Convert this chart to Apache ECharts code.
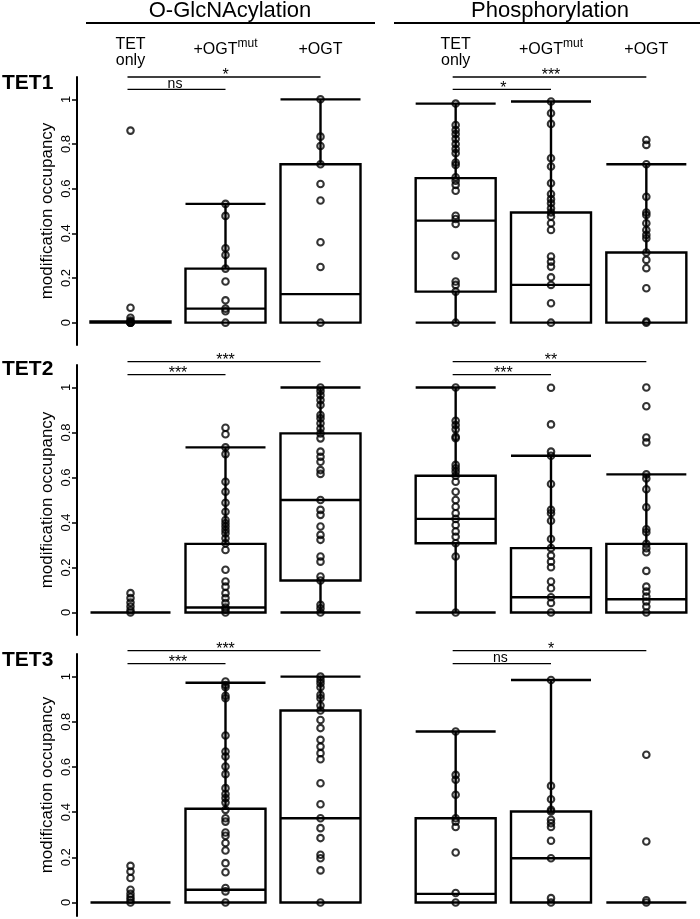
<!DOCTYPE html>
<html><head><meta charset="utf-8">
<script src="https://cdn.jsdelivr.net/npm/echarts@6/dist/echarts.min.js"></script>
<style>html,body{margin:0;padding:0;background:#fff}#c{width:700px;height:919px}</style>
</head><body><div id="c"></div>
<script>
const rowNames = ['TET1', 'TET2', 'TET3'];
const modNames = ['O-GlcNAcylation', 'Phosphorylation'];
const categories = ['TET only', '+OGTmut', '+OGT'];
const yTicks = [0, 0.2, 0.4, 0.6, 0.8, 1];
const yTitle = 'modification occupancy';

// box statistics per group: [min, Q1, median, Q3, max]
const tet1GlcBox = [[0, 0, 0, 0.006, 0.006], [0, 0, 0.063, 0.242, 0.532], [0, 0, 0.128, 0.709, 1.0]];
const tet1PhoBox = [[0, 0.139, 0.457, 0.647, 0.981], [0, 0, 0.169, 0.493, 0.99], [0, 0, 0, 0.314, 0.709]];
const tet2GlcBox = [[0, 0, 0, 0, 0], [0, 0, 0.022, 0.305, 0.734], [0, 0.142, 0.5, 0.796, 1.0]];
const tet2PhoBox = [[0, 0.308, 0.416, 0.608, 1.0], [0, 0, 0.068, 0.286, 0.697], [0, 0, 0.059, 0.305, 0.614]];
const tet3GlcBox = [[0, 0, 0, 0, 0], [0, 0, 0.056, 0.415, 0.973], [0, 0, 0.373, 0.85, 1.0]];
const tet3PhoBox = [[0, 0, 0.038, 0.373, 0.757], [0, 0, 0.196, 0.403, 0.985], [0, 0, 0, 0, 0]];

// individual site occupancies
const tet1GlcOnly = [0.86, 0.067, 0.022, 0.01, 0.004, 0, 0, 0];
const tet1GlcMut = [0.532, 0.478, 0.333, 0.303, 0.242, 0.184, 0.100, 0.063, 0.051, 0];
const tet1GlcOgt = [1.0, 0.833, 0.791, 0.709, 0.621, 0.547, 0.36, 0.249, 0];
const tet1PhoOnly = [0.981, 0.885, 0.863, 0.845, 0.823, 0.800, 0.778, 0.759, 0.717, 0.706, 0.651, 0.636, 0.617, 0.591, 0.479, 0.464, 0.442, 0.300, 0.184, 0.169, 0.139, 0];
const tet1PhoMut = [0.99, 0.938, 0.89, 0.736, 0.699, 0.624, 0.576, 0.553, 0.535, 0.512, 0.493, 0.475, 0.445, 0.415, 0.296, 0.273, 0.251, 0.203, 0.169, 0.087, 0];
const tet1PhoOgt = [0.818, 0.796, 0.709, 0.564, 0.493, 0.482, 0.445, 0.415, 0.393, 0.378, 0.314, 0.281, 0.244, 0.154, 0.005, 0];

const tet2GlcOnly = [0.086, 0.064, 0.044, 0.027, 0.01, 0];
const tet2GlcMut = [0.821, 0.792, 0.734, 0.704, 0.581, 0.537, 0.488, 0.448, 0.411, 0.397, 0.382, 0.367, 0.352, 0.330, 0.308, 0.278, 0.190, 0.138, 0.115, 0.086, 0.064, 0.042, 0.022, 0.012, 0];
const tet2GlcOgt = [1.0, 0.985, 0.966, 0.944, 0.922, 0.878, 0.863, 0.841, 0.818, 0.796, 0.774, 0.715, 0.692, 0.670, 0.633, 0.616, 0.5, 0.456, 0.434, 0.382, 0.345, 0.323, 0.249, 0.226, 0.160, 0.142, 0.034, 0.019, 0];
const tet2PhoOnly = [1.0, 0.852, 0.833, 0.814, 0.781, 0.775, 0.656, 0.641, 0.626, 0.608, 0.581, 0.537, 0.5, 0.47, 0.441, 0.416, 0.389, 0.36, 0.337, 0.308, 0.249, 0];
const tet2PhoMut = [0.999, 0.836, 0.715, 0.697, 0.571, 0.456, 0.441, 0.408, 0.327, 0.286, 0.253, 0.226, 0.201, 0.138, 0.108, 0.068, 0.042, 0];
const tet2PhoOgt = [1.0, 0.917, 0.778, 0.756, 0.614, 0.596, 0.548, 0.468, 0.37, 0.357, 0.305, 0.286, 0.268, 0.185, 0.115, 0.093, 0.071, 0.049, 0.027, 0];

const tet3GlcOnly = [0.162, 0.137, 0.108, 0.056, 0.038, 0.024, 0.012, 0];
const tet3GlcMut = [0.978, 0.963, 0.953, 0.915, 0.904, 0.739, 0.668, 0.646, 0.602, 0.568, 0.506, 0.48, 0.462, 0.442, 0.41, 0.373, 0.358, 0.31, 0.295, 0.263, 0.23, 0.174, 0.134, 0.064, 0.049, 0];
const tet3GlcOgt = [1.0, 0.985, 0.971, 0.953, 0.919, 0.904, 0.872, 0.85, 0.808, 0.772, 0.72, 0.69, 0.661, 0.634, 0.528, 0.435, 0.373, 0.329, 0.285, 0.211, 0.196, 0.142, 0];
const tet3PhoOnly = [0.757, 0.565, 0.543, 0.477, 0.373, 0.358, 0.334, 0.221, 0.042, 0];
const tet3PhoMut = [0.985, 0.516, 0.457, 0.41, 0.403, 0.366, 0.351, 0.334, 0.273, 0.196, 0.019, 0];
const tet3PhoOgt = [0.654, 0.27, 0.01, 0];

// significance comparisons: [fromGroup, toGroup, label]
const tet1GlcSig = [[0, 1, 'ns'], [0, 2, '*']];
const tet1PhoSig = [[0, 1, '*'], [0, 2, '***']];
const tet2GlcSig = [[0, 1, '***'], [0, 2, '***']];
const tet2PhoSig = [[0, 1, '***'], [0, 2, '**']];
const tet3GlcSig = [[0, 1, '***'], [0, 2, '***']];
const tet3PhoSig = [[0, 1, 'ns'], [0, 2, '*']];

const panels = [
  {row: 0, col: 0, box: tet1GlcBox, pts: [tet1GlcOnly, tet1GlcMut, tet1GlcOgt], sig: tet1GlcSig},
  {row: 0, col: 1, box: tet1PhoBox, pts: [tet1PhoOnly, tet1PhoMut, tet1PhoOgt], sig: tet1PhoSig},
  {row: 1, col: 0, box: tet2GlcBox, pts: [tet2GlcOnly, tet2GlcMut, tet2GlcOgt], sig: tet2GlcSig},
  {row: 1, col: 1, box: tet2PhoBox, pts: [tet2PhoOnly, tet2PhoMut, tet2PhoOgt], sig: tet2PhoSig},
  {row: 2, col: 0, box: tet3GlcBox, pts: [tet3GlcOnly, tet3GlcMut, tet3GlcOgt], sig: tet3GlcSig},
  {row: 2, col: 1, box: tet3PhoBox, pts: [tet3PhoOnly, tet3PhoMut, tet3PhoOgt], sig: tet3PhoSig}
];

const FONT = "'Liberation Sans', Arial, Helvetica, sans-serif";
const rowLayout = [
  {top: 77, height: 268, min: -0.1, max: 1.1, sigLevels: [1.045, 1.10], labelY: 83},
  {top: 365, height: 270, min: -0.1, max: 1.1, sigLevels: [1.057, 1.115], labelY: 369},
  {top: 654, height: 262, min: -0.06, max: 1.1, sigLevels: [1.057, 1.115], labelY: 660}
];
const colLayout = [{left: 83, width: 285, head: 230}, {left: 408, width: 286, head: 550}];
const headLines = [[86, 375], [394, 700]];

const grid = [], xAxis = [], yAxis = [], series = [];
panels.forEach((p, i) => {
  const r = rowLayout[p.row], c = colLayout[p.col];
  grid.push({left: c.left, width: c.width, top: r.top, height: r.height, containLabel: false});
  xAxis.push({
    gridIndex: i, type: 'category', data: categories, boundaryGap: true,
    position: 'top', show: p.row === 0,
    axisLine: {show: false}, axisTick: {show: false}, splitLine: {show: false},
    axisLabel: {
      show: p.row === 0, interval: 0, margin: 24, verticalAlign: 'middle', color: '#000',
      fontFamily: FONT, fontSize: 16,
      formatter: v => v === 'TET only' ? '{t|TET}\n{t|only}' : (v === '+OGTmut' ? '{m|+OGT}{s|mut}' : '{m|' + v + '}'),
      rich: {
        t: {fontSize: 16, lineHeight: 16, fontFamily: FONT, color: '#000'},
        m: {fontSize: 16, lineHeight: 30, padding: [0, 0, 6, 0], fontFamily: FONT, color: '#000'},
        s: {fontSize: 12, lineHeight: 12, verticalAlign: 'top', fontFamily: FONT, color: '#000'}
      }
    }
  });
  const isLeft = p.col === 0;
  yAxis.push({
    gridIndex: i, type: 'value', min: r.min, max: r.max, show: isLeft, position: 'left', offset: 6,
    axisLine: {show: true, lineStyle: {color: '#000', width: 2}},
    axisTick: {show: true, length: 5, inside: false, lineStyle: {color: '#000', width: 1.5}, customValues: yTicks},
    axisLabel: {show: true, customValues: yTicks, rotate: 90, fontSize: 13, color: '#000', margin: 4, fontFamily: FONT},
    splitLine: {show: false},
    name: isLeft ? yTitle : '', nameLocation: 'middle', nameGap: 21,
    nameTextStyle: {fontSize: 17, color: '#000', fontFamily: FONT}
  });
  series.push({
    type: 'boxplot', xAxisIndex: i, yAxisIndex: i, z: 2, boxWidth: [80, 80],
    data: p.box,
    itemStyle: {color: '#fff', borderColor: '#000', borderWidth: 2.4},
    emphasis: {disabled: true}, silent: true
  });
  series.push({
    type: 'scatter', xAxisIndex: i, yAxisIndex: i, z: 3,
    data: p.pts.flatMap((arr, g) => arr.map(v => [g, v])),
    symbol: 'circle', symbolSize: 6.5,
    itemStyle: {color: 'rgba(0,0,0,0)', borderColor: '#000', borderWidth: 2.1},
    emphasis: {disabled: true}, silent: true
  });
  const levels = r.sigLevels;
  series.push({
    type: 'custom', xAxisIndex: i, yAxisIndex: i, z: 4, clip: false, silent: true,
    data: p.sig.map(s => [s[0], levels[s[1] - s[0] - 1]]),
    renderItem: (params, api) => {
      const s = p.sig[params.dataIndex];
      const y = levels[s[1] - s[0] - 1];
      const p1 = api.coord([s[0], y]), p2 = api.coord([s[1], y]);
      const isNs = s[2] === 'ns';
      return {type: 'group', children: [
        {type: 'line', shape: {x1: p1[0] - 3, y1: p1[1], x2: p2[0], y2: p2[1]}, style: {stroke: '#000', lineWidth: 1.3}},
        {type: 'text', x: (p1[0] + p2[0]) / 2 - (isNs ? 3 : 0), y: p1[1] + (isNs ? 1.5 : 7),
         style: {text: s[2], fontSize: isNs ? 14 : 16, fontFamily: FONT, align: 'center', verticalAlign: 'bottom', fill: '#000'}}
      ]};
    }
  });
});

const graphic = [];
modNames.forEach((m, k) => {
  graphic.push({type: 'text', x: colLayout[k].head, y: 11, style: {text: m, fontSize: 22, fontFamily: FONT, align: 'center', verticalAlign: 'middle', fill: '#000'}});
  graphic.push({type: 'line', shape: {x1: headLines[k][0], y1: 23, x2: headLines[k][1], y2: 23}, style: {stroke: '#000', lineWidth: 2}});
});
rowNames.forEach((n, k) => {
  graphic.push({type: 'text', x: 2, y: rowLayout[k].labelY, style: {text: n, fontSize: 21, fontWeight: 'bold', fontFamily: FONT, align: 'left', verticalAlign: 'middle', fill: '#000'}});
});

const chart = echarts.init(document.getElementById('c'), null, {renderer: 'canvas'});
chart.setOption({animation: false, backgroundColor: '#fff', grid, xAxis, yAxis, series, graphic});
</script></body></html>
